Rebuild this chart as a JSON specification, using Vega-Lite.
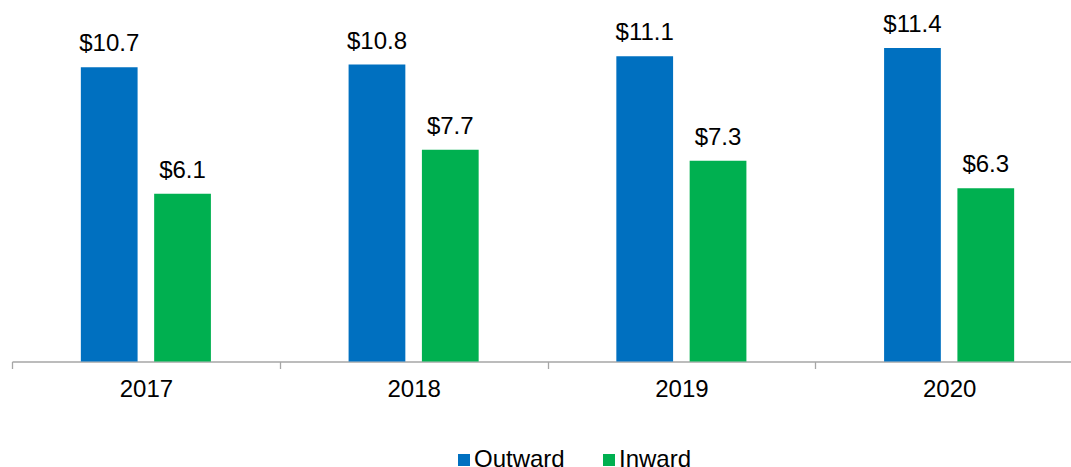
{
  "$schema": "https://vega.github.io/schema/vega-lite/v6.json",
  "width": 1071,
  "height": 357.5,
  "autosize": "none",
  "padding": {"left": 12, "top": 4, "right": 0, "bottom": 105.5},
  "config": {"view": {"stroke": null}, "font": "Liberation Sans"},
  "data": {
    "values": [
      {"year": "2017", "series": "Outward", "value": 10.7},
      {"year": "2017", "series": "Inward", "value": 6.1},
      {"year": "2018", "series": "Outward", "value": 10.8},
      {"year": "2018", "series": "Inward", "value": 7.7},
      {"year": "2019", "series": "Outward", "value": 11.1},
      {"year": "2019", "series": "Inward", "value": 7.3},
      {"year": "2020", "series": "Outward", "value": 11.4},
      {"year": "2020", "series": "Inward", "value": 6.3}
    ]
  },
  "encoding": {
    "x": {
      "field": "year",
      "type": "nominal",
      "scale": {"paddingInner": 0, "paddingOuter": 0},
      "axis": {
        "title": null,
        "labelAngle": 0,
        "labelFontSize": 24,
        "labelColor": "#000000",
        "domainColor": "#A6A6A6",
        "domainWidth": 1.3,
        "tickColor": "#A6A6A6",
        "tickWidth": 1.3,
        "tickBand": "extent",
        "tickSize": 7,
        "labelPadding": 9
      }
    },
    "xOffset": {
      "field": "series",
      "type": "nominal",
      "sort": ["Outward", "Inward"],
      "scale": {"paddingInner": 0.226, "paddingOuter": 0.939}
    },
    "y": {
      "field": "value",
      "type": "quantitative",
      "scale": {"domain": [0, 13]},
      "axis": null
    }
  },
  "layer": [
    {
      "mark": {"type": "bar"},
      "encoding": {
        "color": {
          "field": "series",
          "type": "nominal",
          "sort": ["Outward", "Inward"],
          "scale": {"domain": ["Outward", "Inward"], "range": ["#0070C0", "#00B050"]},
          "legend": {
            "title": null,
            "orient": "none",
            "legendX": 440,
            "legendY": 444,
            "padding": 0,
            "direction": "horizontal",
            "symbolType": "square",
            "symbolSize": 144,
            "symbolStrokeWidth": 0,
            "labelFontSize": 24,
            "labelColor": "#000000",
            "labelOffset": -2,
            "columnPadding": 32
          }
        }
      }
    },
    {
      "mark": {"type": "text", "dy": -16, "baseline": "alphabetic", "fontSize": 24, "color": "#000000"},
      "encoding": {
        "text": {"field": "value", "type": "quantitative", "format": "$.1f"}
      }
    }
  ]
}
